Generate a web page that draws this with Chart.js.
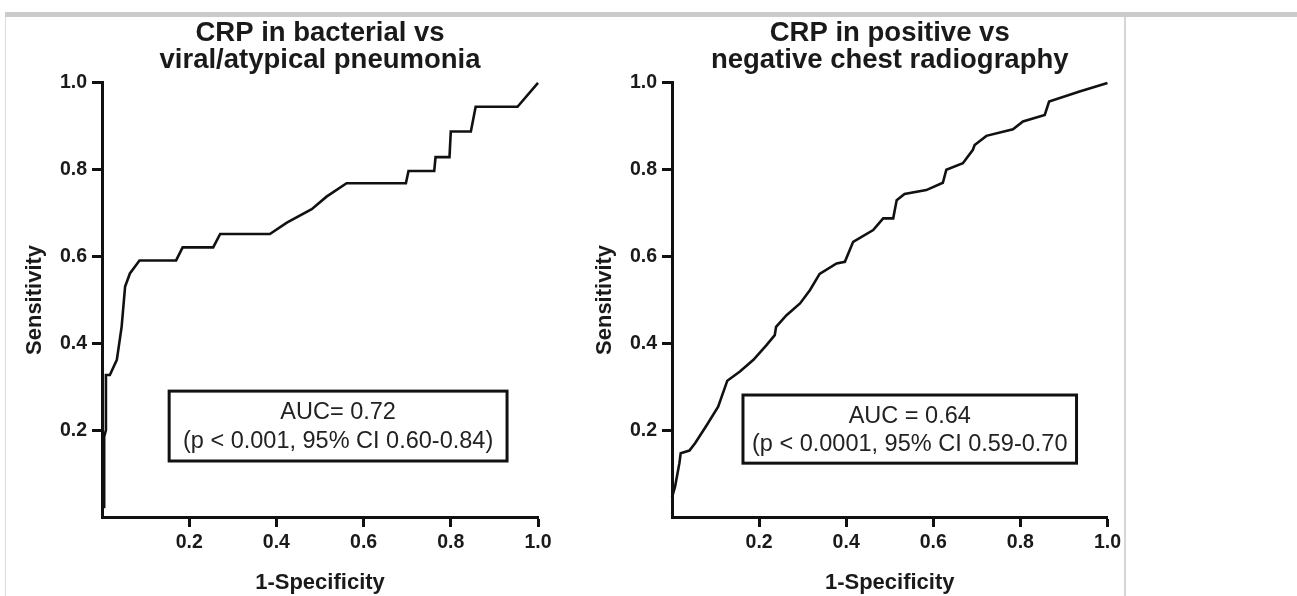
<!DOCTYPE html>
<html>
<head>
<meta charset="utf-8">
<script src="https://cdn.jsdelivr.net/npm/chart.js@4/dist/chart.umd.min.js"></script>
<style>
  body { margin: 0; background: #fff; width: 1297px; height: 596px; overflow: hidden; position: relative; }
  .bar { position: absolute; left: 5px; top: 12px; width: 1292px; height: 5px; background: #cbcbcb; }
  .edgeL { position: absolute; left: 5px; top: 17px; width: 1px; height: 579px; background: #dcdcdc; }
  .edgeR { position: absolute; left: 1124px; top: 17px; width: 2px; height: 579px; background: #d6d6d6; }
  canvas { position: absolute; top: 0; }
  #left { left: 5px; }
  #right { left: 575px; }
</style>
</head>
<body>
<div class="bar"></div>
<div class="edgeL"></div>
<div class="edgeR"></div>
<canvas id="left" width="570" height="596"></canvas>
<canvas id="right" width="550" height="596"></canvas>
<script>
// ROC curve 1: bacterial vs viral/atypical
const leftFpr = [0.005, 0.005, 0.009, 0.009, 0.018, 0.034, 0.045, 0.053, 0.064, 0.086, 0.170, 0.185, 0.255, 0.271, 0.385, 0.424, 0.481, 0.515, 0.561, 0.697, 0.703, 0.762, 0.765, 0.797, 0.800, 0.846, 0.857, 0.953, 1.0];
const leftTpr = [0.02, 0.185, 0.2, 0.327, 0.327, 0.362, 0.438, 0.531, 0.561, 0.591, 0.591, 0.621, 0.621, 0.652, 0.652, 0.678, 0.709, 0.738, 0.769, 0.769, 0.797, 0.797, 0.829, 0.829, 0.888, 0.888, 0.945, 0.945, 1.0];

// ROC curve 2: positive vs negative chest radiography
const rightFpr = [0.0, 0.007, 0.017, 0.02, 0.04, 0.053, 0.08, 0.106, 0.127, 0.156, 0.187, 0.217, 0.236, 0.239, 0.263, 0.294, 0.317, 0.339, 0.378, 0.397, 0.416, 0.462, 0.485, 0.508, 0.516, 0.534, 0.584, 0.622, 0.630, 0.668, 0.691, 0.695, 0.722, 0.783, 0.806, 0.856, 0.866, 0.936, 1.0];
const rightTpr = [0.045, 0.07, 0.124, 0.147, 0.153, 0.170, 0.212, 0.254, 0.314, 0.335, 0.362, 0.396, 0.419, 0.438, 0.465, 0.492, 0.523, 0.560, 0.584, 0.588, 0.634, 0.661, 0.688, 0.688, 0.730, 0.744, 0.753, 0.770, 0.800, 0.815, 0.846, 0.857, 0.878, 0.893, 0.911, 0.926, 0.957, 0.98, 1.0];

const tickValues = [0.2, 0.4, 0.6, 0.8, 1.0];

const leftTitle = ['CRP in bacterial vs', 'viral/atypical pneumonia'];
const rightTitle = ['CRP in positive vs', 'negative chest radiography'];
const leftNote = ['AUC= 0.72', '(p < 0.001, 95% CI 0.60-0.84)'];
const rightNote = ['AUC = 0.64', '(p < 0.0001, 95% CI 0.59-0.70'];

const FONT = "'Liberation Sans', Arial, sans-serif";
const INK = '#111';

// text box inside the plot (AUC note)
const noteBox = {
  id: 'noteBox',
  afterDraw(chart, args, opts) {
    const { ctx, scales: { x, y } } = chart;
    const l = x.getPixelForValue(opts.x0), r = x.getPixelForValue(opts.x1);
    const t = y.getPixelForValue(opts.y0), b = y.getPixelForValue(opts.y1);
    ctx.save();
    ctx.strokeStyle = INK;
    ctx.lineWidth = 3;
    ctx.strokeRect(l, t, r - l, b - t);
    ctx.fillStyle = '#222';
    ctx.font = '23.5px ' + FONT;
    ctx.textAlign = 'center';
    ctx.textBaseline = 'middle';
    const cx = (l + r) / 2, h = b - t;
    ctx.fillText(opts.lines[0], cx, t + h * 0.31);
    ctx.fillText(opts.lines[1], cx, t + h * 0.72);
    ctx.restore();
  }
};

function makeRoc(id, fpr, tpr, title, note, box, padRight) {
  const pts = fpr.map((v, i) => ({ x: v, y: tpr[i] }));
  const axis = (label, isX) => ({
    type: 'linear',
    min: 0,
    max: 1,
    afterBuildTicks: s => { s.ticks = tickValues.map(v => ({ value: v })); },
    afterFit: s => { if (isX) s.height = 79; else s.width = 97; },
    border: { display: true, color: INK, width: 3 },
    grid: { drawOnChartArea: false, drawTicks: true, tickLength: 10, tickWidth: 3, tickColor: INK },
    ticks: {
      color: '#1a1a1a',
      padding: isX ? 4 : 5,
      font: { family: FONT, size: 19.5, weight: 'bold' },
      callback: v => v.toFixed(1)
    },
    title: {
      display: true,
      text: label,
      color: '#1a1a1a',
      font: { family: FONT, size: 22, weight: 'bold' },
      padding: isX ? { top: 0, bottom: 0 } : { top: 17, bottom: 0 }
    }
  });

  return new Chart(document.getElementById(id), {
    type: 'scatter',
    data: {
      datasets: [{
        data: pts,
        showLine: true,
        borderColor: INK,
        borderWidth: 2.6,
        pointRadius: 0,
        tension: 0,
        clip: false
      }]
    },
    options: {
      responsive: false,
      animation: false,
      layout: { padding: { left: 0, right: padRight, top: 0, bottom: 0 } },
      scales: {
        x: axis('1-Specificity', true),
        y: axis('Sensitivity', false)
      },
      plugins: {
        legend: { display: false },
        tooltip: { enabled: false },
        title: {
          display: true,
          text: title,
          fullSize: false,
          color: '#1a1a1a',
          font: { family: FONT, size: 27.5, weight: 'bold', lineHeight: 0.98 },
          padding: { top: 20, bottom: 9 }
        },
        noteBox: Object.assign({ lines: note }, box)
      }
    },
    plugins: [noteBox]
  });
}

makeRoc('left', leftFpr, leftTpr, leftTitle, leftNote, { x0: 0.154, x1: 0.929, y0: 0.29, y1: 0.129 }, 37);
makeRoc('right', rightFpr, rightTpr, rightTitle, rightNote, { x0: 0.163, x1: 0.929, y0: 0.281, y1: 0.124 }, 17);
</script>
</body>
</html>
